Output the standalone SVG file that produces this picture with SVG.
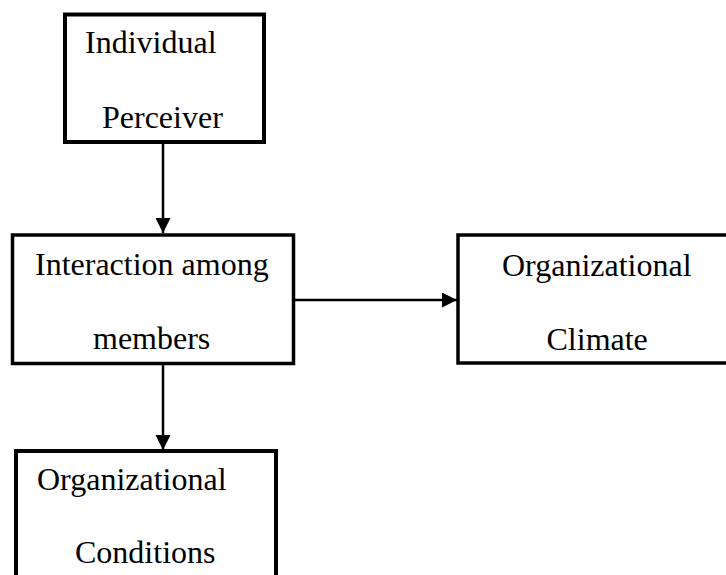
<svg xmlns="http://www.w3.org/2000/svg" width="726" height="575" viewBox="0 0 726 575">
<defs>
<style>
.box{fill:#fff;stroke:#000;stroke-width:4}
.lbl{font-family:"Liberation Serif","Times New Roman",serif;font-size:32px;fill:#000}
.conn{stroke:#000;stroke-width:2.5;fill:none}
</style>
<marker id="ah" markerUnits="userSpaceOnUse" markerWidth="16" markerHeight="16" refX="15" refY="7.5" orient="auto">
<path d="M0,0 L15,7.5 L0,15 Z" fill="#000"/>
</marker>
</defs>
<rect width="726" height="575" fill="#fff"/>
<g id="connectors">
<line class="conn" x1="163" y1="144" x2="163" y2="233" marker-end="url(#ah)"/>
<line class="conn" x1="295" y1="300" x2="457" y2="300" marker-end="url(#ah)"/>
<line class="conn" x1="163" y1="365" x2="163" y2="450" marker-end="url(#ah)"/>
</g>
<g id="individual-perceiver">
<rect class="box" x="65" y="14.5" width="199" height="127.5"/>
<text class="lbl" x="85" y="53">Individual</text>
<text class="lbl" x="102" y="128">Perceiver</text>
</g>
<g id="interaction-among-members">
<rect class="box" x="12.5" y="235" width="281" height="128.5" style="stroke-width:3.5"/>
<text class="lbl" x="35" y="275">Interaction among</text>
<text class="lbl" x="93" y="349">members</text>
</g>
<g id="organizational-climate">
<rect class="box" x="458" y="235" width="300" height="128" style="stroke-width:3.5"/>
<text class="lbl" x="502" y="276">Organizational</text>
<text class="lbl" x="546.5" y="350">Climate</text>
</g>
<g id="organizational-conditions">
<rect class="box" x="16" y="451" width="260" height="160"/>
<text class="lbl" x="37" y="490">Organizational</text>
<text class="lbl" x="75" y="563">Conditions</text>
</g>
</svg>
